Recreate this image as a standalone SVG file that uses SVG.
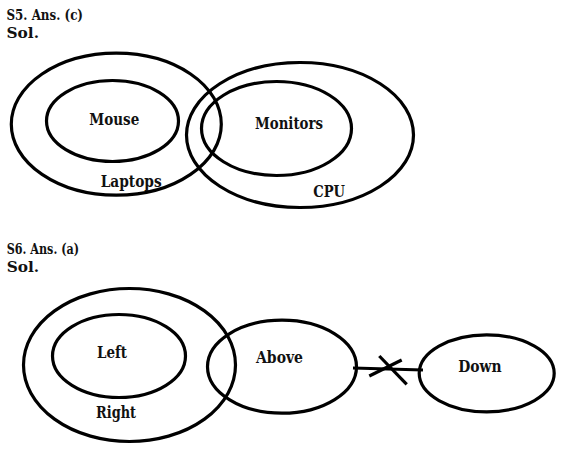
<svg xmlns="http://www.w3.org/2000/svg" width="567" height="451" viewBox="0 0 567 451">
<style>
.s{fill:none;stroke:#000;stroke-width:3.2}
.t{font-family:"DejaVu Serif","Liberation Serif",serif;font-weight:bold;fill:#111;font-size:16.5px}
.h{font-family:"DejaVu Serif","Liberation Serif",serif;font-weight:bold;fill:#111;font-size:14.5px}
</style>
<rect width="567" height="451" fill="#fff"/>
<text class="h" x="6.5" y="20" textLength="76.5" lengthAdjust="spacingAndGlyphs">S5. Ans. (c)</text>
<text class="h" x="6.5" y="38" textLength="32.5" lengthAdjust="spacingAndGlyphs">Sol.</text>
<g id="laptops"><ellipse class="s" cx="116.3" cy="124.2" rx="105" ry="71"/><text class="t" x="100.7" y="187" textLength="61" lengthAdjust="spacingAndGlyphs">Laptops</text></g>
<g id="mouse"><ellipse class="s" cx="112.5" cy="121" rx="66" ry="40.5"/><text class="t" x="89.3" y="125" textLength="50" lengthAdjust="spacingAndGlyphs">Mouse</text></g>
<g id="cpu"><ellipse class="s" cx="300" cy="135" rx="113.5" ry="72.5"/><text class="t" x="313.3" y="197" textLength="31.7" lengthAdjust="spacingAndGlyphs">CPU</text></g>
<g id="monitors"><ellipse class="s" cx="276.5" cy="128.5" rx="75" ry="47"/><text class="t" x="255" y="129.3" textLength="68" lengthAdjust="spacingAndGlyphs">Monitors</text></g>
<text class="h" x="6.7" y="254" textLength="72.3" lengthAdjust="spacingAndGlyphs">S6. Ans. (a)</text>
<text class="h" x="6.7" y="272" textLength="32.5" lengthAdjust="spacingAndGlyphs">Sol.</text>
<g id="right"><ellipse class="s" cx="129.5" cy="365" rx="106" ry="76.5"/><text class="t" x="96" y="418" textLength="40" lengthAdjust="spacingAndGlyphs">Right</text></g>
<g id="left"><ellipse class="s" cx="119" cy="356" rx="66.5" ry="41.5"/><text class="t" x="97" y="358" textLength="30" lengthAdjust="spacingAndGlyphs">Left</text></g>
<g id="above"><ellipse class="s" cx="282" cy="366.7" rx="74.5" ry="46.5"/><text class="t" x="256" y="363.3" textLength="47" lengthAdjust="spacingAndGlyphs">Above</text></g>
<g id="down"><ellipse class="s" cx="486.7" cy="373.3" rx="67.5" ry="38.5"/><text class="t" x="458.3" y="372.3" textLength="43.4" lengthAdjust="spacingAndGlyphs">Down</text></g>
<g id="connectors">
<line class="s" x1="353" y1="368" x2="423" y2="370"/>
<line class="s" x1="379.3" y1="356" x2="406.7" y2="384.3"/>
<line class="s" x1="369.3" y1="376" x2="401.7" y2="360"/>
</g>
</svg>
